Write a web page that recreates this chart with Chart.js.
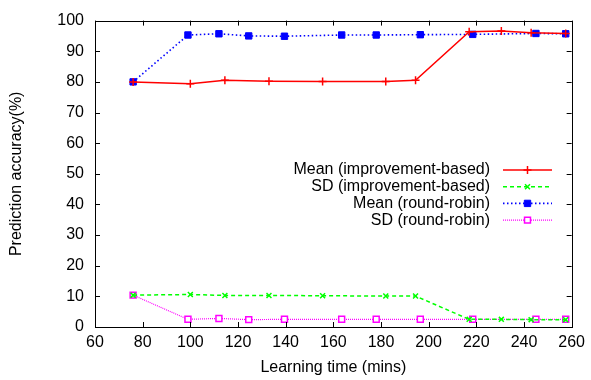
<!DOCTYPE html>
<html>
<head>
<meta charset="utf-8">
<script src="https://cdn.jsdelivr.net/npm/chart.js@4/dist/chart.umd.min.js"></script>
<style>
html,body{margin:0;padding:0;background:#fff;}
#wrap{width:591px;height:380px;position:relative;}
</style>
</head>
<body>
<div id="wrap"><canvas id="c" width="591" height="380"></canvas></div>
<script>
// Data
const timesImp = [76, 100, 114.5, 133, 155.5, 182, 194.5, 217, 230.5, 243, 257.5];
const meanImp  = [80, 79.4, 80.5, 80.2, 80.1, 80.1, 80.5, 96.4, 96.6, 96.0, 95.8];
const sdImp    = [10.4, 10.6, 10.3, 10.3, 10.2, 10.1, 10.1, 2.5, 2.5, 2.4, 2.4];
const timesRR  = [76, 99, 112, 124.5, 139.5, 163.5, 178, 196.5, 218.5, 245, 257.5];
const meanRR   = [80, 95.3, 95.7, 95.0, 94.9, 95.3, 95.3, 95.4, 95.5, 95.8, 95.7];
const sdRR     = [10.4, 2.5, 2.8, 2.4, 2.5, 2.5, 2.5, 2.5, 2.5, 2.5, 2.5];
const seriesLabels = ['Mean (improvement-based)', 'SD (improvement-based)', 'Mean (round-robin)', 'SD (round-robin)'];
const xTitle = 'Learning time (mins)';
const yTitle = 'Prediction accuracy(%)';

const FONT = '"Liberation Sans", Arial, Helvetica, sans-serif';
const pts = (xs, ys) => xs.map((x, i) => ({x: x, y: ys[i]}));

const datasets = [
  {label: seriesLabels[0], data: pts(timesImp, meanImp), borderColor: '#ff0000', backgroundColor: '#ff0000',
   borderWidth: 1.5, pointStyle: 'cross', pointRadius: 4, pointBorderWidth: 1.5},
  {label: seriesLabels[1], data: pts(timesImp, sdImp), borderColor: '#00ff00', backgroundColor: '#00ff00',
   borderWidth: 1.5, borderDash: [4, 3], pointStyle: 'crossRot', pointRadius: 3.5, pointBorderWidth: 1.5},
  {label: seriesLabels[2], data: pts(timesRR, meanRR), borderColor: '#0000ff', backgroundColor: '#0000ff',
   borderWidth: 1.6, borderDash: [1.5, 2.5], pointStyle: 'rect', pointRadius: 4.5, pointBorderWidth: 1},
  {label: seriesLabels[3], data: pts(timesRR, sdRR), borderColor: '#ff00ff', backgroundColor: '#ffffff',
   borderWidth: 1.2, borderDash: [1, 1], pointStyle: 'rect', pointRadius: 4.2, pointBorderWidth: 1.5}
];

const framePlugin = {
  id: 'frame',
  afterDraw(chart) {
    const {ctx, chartArea: a, scales} = chart;
    ctx.save();
    ctx.strokeStyle = '#000';
    ctx.lineWidth = 1;
    ctx.setLineDash([]);
    ctx.strokeRect(Math.round(a.left) + 0.5, Math.round(a.top) + 0.5, Math.round(a.right - a.left), Math.round(a.bottom - a.top));
    const L = 5;
    scales.x.ticks.forEach(t => {
      const px = Math.round(scales.x.getPixelForValue(t.value)) + 0.5;
      ctx.beginPath();
      ctx.moveTo(px, a.bottom); ctx.lineTo(px, a.bottom - L);
      ctx.moveTo(px, a.top); ctx.lineTo(px, a.top + L);
      ctx.stroke();
    });
    scales.y.ticks.forEach(t => {
      const py = Math.round(scales.y.getPixelForValue(t.value)) + 0.5;
      ctx.beginPath();
      ctx.moveTo(a.left, py); ctx.lineTo(a.left + L, py);
      ctx.moveTo(a.right, py); ctx.lineTo(a.right - L, py);
      ctx.stroke();
    });
    ctx.restore();
  }
};

const keyPlugin = {
  id: 'key',
  afterDatasetsDraw(chart) {
    const {ctx} = chart;
    const textRight = 490, x0 = 503, x1 = 552, y0 = 170, dy = 16.7;
    ctx.save();
    ctx.font = '16px ' + FONT;
    ctx.textAlign = 'right';
    ctx.textBaseline = 'middle';
    chart.data.datasets.forEach((ds, i) => {
      const y = y0 + i * dy;
      ctx.fillStyle = '#000';
      ctx.fillText(ds.label, textRight, y);
      ctx.strokeStyle = ds.borderColor;
      ctx.lineWidth = ds.borderWidth;
      ctx.setLineDash(ds.borderDash || []);
      ctx.beginPath();
      ctx.moveTo(x0, y); ctx.lineTo(x1, y);
      ctx.stroke();
      ctx.setLineDash([]);
      ctx.fillStyle = ds.backgroundColor;
      ctx.strokeStyle = ds.borderColor;
      ctx.lineWidth = ds.pointBorderWidth;
      Chart.helpers.drawPoint(ctx, {pointStyle: ds.pointStyle, radius: ds.pointRadius, borderWidth: ds.pointBorderWidth, rotation: 0}, (x0 + x1) / 2, y);
    });
    ctx.restore();
  }
};

new Chart(document.getElementById('c'), {
  type: 'line',
  data: {datasets: datasets},
  options: {
    responsive: false,
    animation: false,
    layout: {padding: {top: 13, right: 17, left: 0, bottom: 0}},
    plugins: {legend: {display: false}, tooltip: {enabled: false}},
    scales: {
      x: {
        type: 'linear', min: 60, max: 260,
        ticks: {stepSize: 20, color: '#000', font: {family: FONT, size: 16}, padding: 6, maxRotation: 0},
        grid: {display: false, drawTicks: false},
        border: {display: false},
        title: {display: true, text: xTitle, color: '#000', font: {family: FONT, size: 16}, padding: {top: 0, bottom: 3}},
        afterFit(s) { s.height = 53; }
      },
      y: {
        min: 0, max: 100,
        ticks: {stepSize: 10, color: '#000', font: {family: FONT, size: 16}, padding: 11},
        grid: {display: false, drawTicks: false},
        border: {display: false},
        title: {display: true, text: yTitle, color: '#000', font: {family: FONT, size: 16}, padding: {top: 7, bottom: 0}},
        afterFit(s) { s.width = 95; }
      }
    }
  },
  plugins: [framePlugin, keyPlugin]
});
</script>
</body>
</html>
